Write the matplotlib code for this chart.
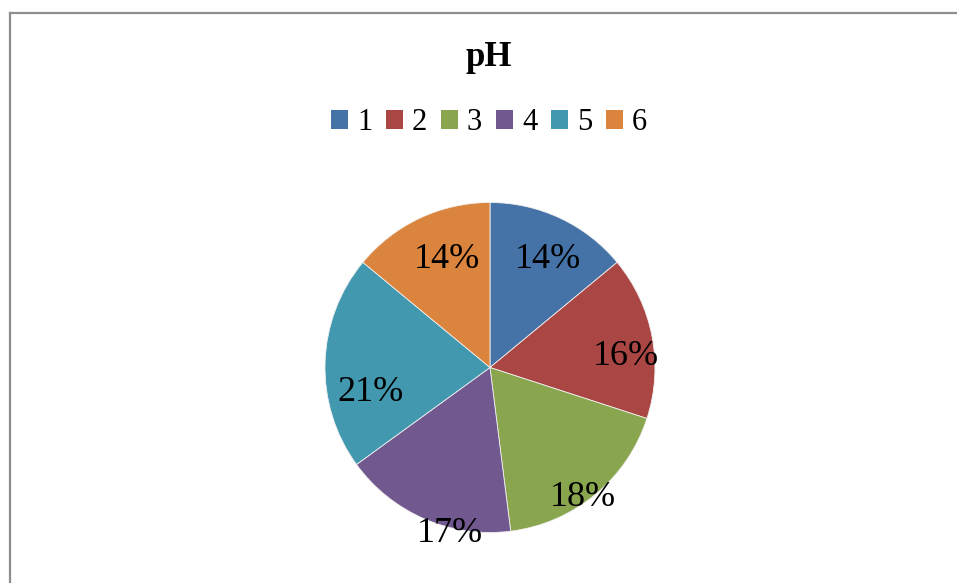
import matplotlib
matplotlib.use("Agg")
import matplotlib.pyplot as plt
import numpy as np
from matplotlib.lines import Line2D
from matplotlib.patches import Patch

categories = ["1", "2", "3", "4", "5", "6"]
values = [14, 16, 18, 17, 21, 14]
colors = ["#4572A7", "#AA4643", "#89A54E", "#71588F", "#4198AF", "#DB843D"]
title = "pH"

# label placement style (radial factor, clockwise angular shift in degrees)
label_dist = [0.756, 0.83, 0.956, 1.02, 0.735, 0.72]
label_shift = [2.5, 5.1, 3.5, -9.7, -12.5, 3.9]

W, H = 957, 583
fig = plt.figure(figsize=(W / 100, H / 100), dpi=100)
fig.patch.set_facecolor("white")

# frame (cropped at right & bottom)
fx = 9.5 / W
fy = 1 - 12.5 / H
fig.add_artist(Line2D([fx, 1.0], [fy, fy], transform=fig.transFigure, color="#8e8e8e", lw=1.6))
fig.add_artist(Line2D([fx, fx], [0, fy], transform=fig.transFigure, color="#8e8e8e", lw=1.6))

cx, cy, r = 490, 367.5, 165
ax = fig.add_axes([(cx - r) / W, (H - cy - r) / H, 2 * r / W, 2 * r / H])
wedges, _ = ax.pie(values, colors=colors, startangle=90, counterclock=False,
                   wedgeprops=dict(edgecolor="#f0f0f0", linewidth=0.6))
ax.set_xlim(-1, 1)
ax.set_ylim(-1, 1)
ax.axis("off")

total = sum(values)
for w, v, d, s in zip(wedges, values, label_dist, label_shift):
    mid = np.deg2rad((w.theta1 + w.theta2) / 2 - s)
    ax.text(d * np.cos(mid), d * np.sin(mid) - 0.015, f"{round(100 * v / total)}%",
            ha="center", va="center", fontsize=26, family="Liberation Serif", color="black")

fig.text(489 / W, 1 - 58 / H, title, ha="center", va="center", fontsize=25,
         fontweight="bold", family="Liberation Serif")

handles = [Patch(facecolor=c, edgecolor="none") for c in colors]
fig.legend(handles, categories, loc="center", bbox_to_anchor=(489 / W, 1 - 123 / H),
           ncol=6, frameon=False, prop=dict(family="Liberation Serif", size=22),
           handlelength=0.55, handleheight=0.55, handletextpad=0.3, columnspacing=0.45,
           borderpad=0, borderaxespad=0)

fig.savefig("out.png", dpi=100, facecolor="white")
